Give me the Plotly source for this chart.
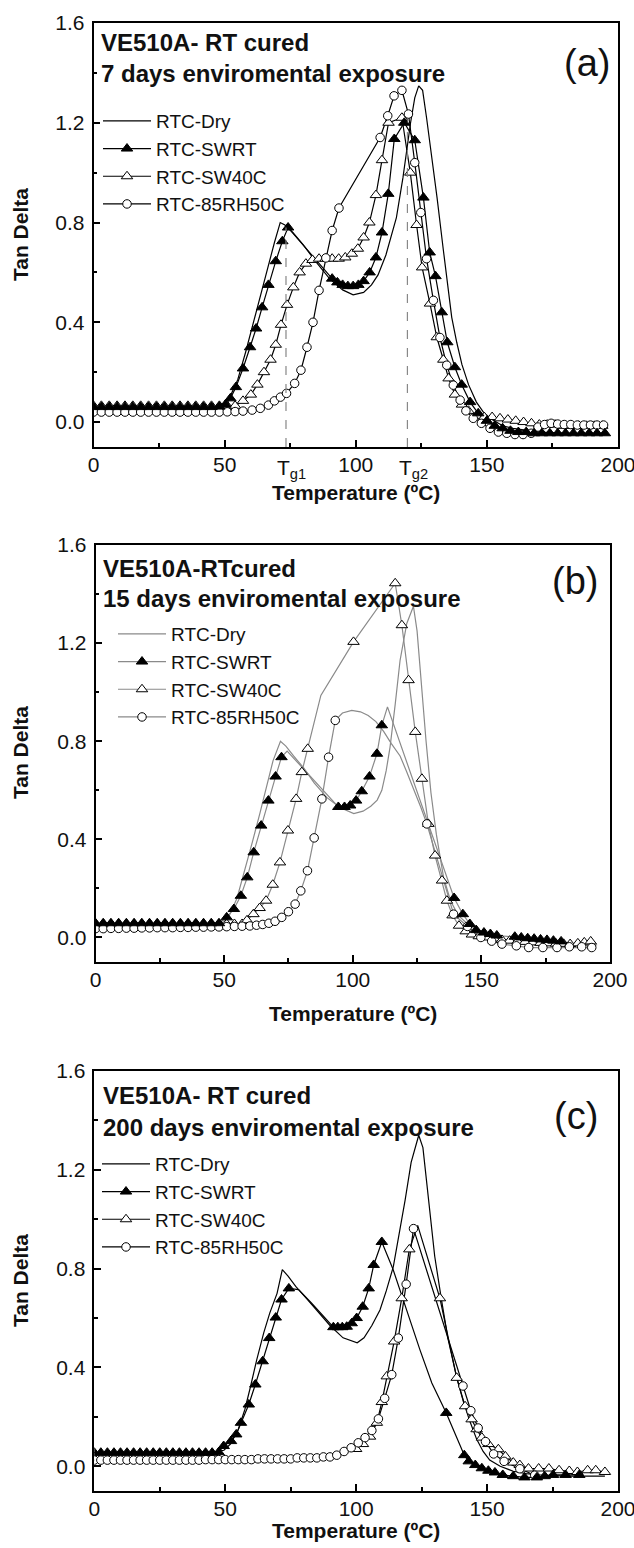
import plotly.graph_objects as go

FONT = "Liberation Sans, Arial, Helvetica, sans-serif"
W, H = 634, 1548

# ---------------- tick labels ----------------
x_ticks = [0, 50, 100, 150, 200]
x_minor = [25, 75, 125, 175]
y_ticks = [0.0, 0.4, 0.8, 1.2, 1.6]
y_ticktext = ["0.0", "0.4", "0.8", "1.2", "1.6"]
y_minor = [0.2, 0.6, 1.0, 1.4]
series_names = ["RTC-Dry", "RTC-SWRT", "RTC-SW40C", "RTC-85RH50C"]

# ---------------- panel (a): 7 days ----------------
a_dry_T = [0, 10, 20, 30, 40, 46, 50, 52, 55, 58, 61, 64, 67, 69, 71.2, 73, 76, 80, 85, 90, 95, 99, 103, 106,
           108.5, 111.5, 115.5, 118, 120.9, 122.5, 124, 125.5, 127, 129, 131, 133.4, 135, 136.6, 138.5, 140.5,
           143, 146, 149, 152, 156, 160, 170, 180, 195]
a_dry_v = [0.055, 0.055, 0.055, 0.055, 0.056, 0.06, 0.075, 0.10, 0.17, 0.28, 0.40, 0.52, 0.65, 0.72, 0.80, 0.79,
           0.76, 0.71, 0.64, 0.575, 0.53, 0.51, 0.52, 0.55, 0.59, 0.67, 0.82, 0.98, 1.20, 1.30, 1.348, 1.33, 1.22,
           1.07, 0.90, 0.69, 0.55, 0.42, 0.32, 0.23, 0.15, 0.08, 0.035, 0.01, -0.015, -0.025, -0.04, -0.045, -0.05]

a_swrt_T = [0, 3, 6, 9, 12, 15, 18, 21, 24, 27, 30, 33, 36, 39, 42, 45, 48, 50.3, 52.2, 54.3, 57.0, 59.7, 62.0,
            64.3, 66.7, 69.5, 72.0, 74.2, 91.0, 93.0, 95.0, 97.0, 99.0, 101.0, 103.0, 105.3, 107.7, 110.0, 112.4,
            114.7, 118.5, 122.5, 125.8, 128.2, 130.4, 132.8, 134.9, 137.8, 140.4, 143.6, 146.7, 150.0, 153.0,
            156.0, 159.0, 162.0, 165.0, 168.0, 171.0, 174.0, 177.0, 180.0, 183.0, 186.0, 189.0, 192.0, 195.0]
a_swrt_v = [0.06, 0.06, 0.06, 0.06, 0.06, 0.06, 0.06, 0.06, 0.06, 0.06, 0.06, 0.06, 0.06, 0.06, 0.06, 0.06, 0.062,
            0.07, 0.095, 0.14, 0.215, 0.30, 0.375, 0.46, 0.55, 0.645, 0.725, 0.78, 0.575, 0.56, 0.55, 0.545, 0.545,
            0.55, 0.565, 0.60, 0.66, 0.76, 0.915, 1.135, 1.20, 1.13, 0.90, 0.68, 0.585, 0.44, 0.32, 0.22, 0.15,
            0.08, 0.035, 0.005, -0.015, -0.025, -0.035, -0.04, -0.04, -0.045, -0.045, -0.045, -0.045, -0.045,
            -0.045, -0.045, -0.045, -0.045, -0.045]
a_swrt_nomark = []

a_sw40c_T = [0, 3, 6, 9, 12, 15, 18, 21, 24, 27, 30, 33, 36, 39, 42, 45, 48, 51, 54, 57.0, 60.0, 62.5, 65.0, 67.5,
             69.5, 71.5, 73.8, 76.2, 78.6, 81.0, 83.5, 86.0, 88.5, 91.0, 93.5, 96.0, 98.5, 100.8, 103.0, 105.2,
             107.7, 110.0, 112.5, 117.6, 120.8, 123.2, 125.3, 128.3, 130.9, 133.4, 135.4, 137.8, 140.5, 143.0,
             146.0, 149.0, 152.0, 155.0, 158.0, 161.0, 164.0, 167.0, 170.0, 173.0, 176.0, 179.0, 182.0, 185.0,
             188.0, 191.0, 194.0]
a_sw40c_v = [0.065, 0.065, 0.065, 0.065, 0.065, 0.065, 0.065, 0.065, 0.065, 0.065, 0.065, 0.065, 0.065, 0.065,
             0.065, 0.065, 0.065, 0.065, 0.065, 0.085, 0.11, 0.15, 0.20, 0.25, 0.31, 0.39, 0.47, 0.54, 0.60, 0.635,
             0.65, 0.655, 0.655, 0.655, 0.655, 0.66, 0.675, 0.695, 0.74, 0.80, 0.91, 1.05, 1.20, 1.22, 1.0, 0.79,
             0.62, 0.475, 0.34, 0.25, 0.175, 0.11, 0.07, 0.045, 0.025, 0.02, 0.02, 0.015, 0.01, 0.005, 0.0, -0.005,
             -0.01, -0.01, -0.01, -0.015, -0.015, -0.015, -0.015, -0.015, -0.015]
a_sw40c_nomark = []

a_rh_T = [0, 3, 6, 9, 12, 15, 18, 21, 24, 27, 30, 33, 36, 39, 42, 45, 48, 51, 54, 57, 60.5, 63.6, 66.7, 69.0, 71.3,
          73.6, 76.7, 79.1, 81.4, 83.7, 86.0, 88.6, 91.0, 93.6, 109.3, 112.2, 114.6, 117.6, 120.1, 122.5, 124.8,
          127.0, 129.6, 132.1, 134.7, 137.2, 139.8, 142.0, 144.8, 147.9, 151.2, 154.4, 157.6, 160.7, 163.8, 166.9,
          169.5, 172.0, 174.5, 177.0, 179.5, 182.0, 184.5, 187.0, 189.5, 192.0, 194.5]
a_rh_v = [0.04, 0.04, 0.04, 0.04, 0.04, 0.04, 0.04, 0.04, 0.04, 0.04, 0.04, 0.04, 0.04, 0.04, 0.04, 0.04, 0.04,
          0.041, 0.042, 0.044, 0.048, 0.055, 0.068, 0.085, 0.10, 0.115, 0.155, 0.208, 0.30, 0.40, 0.528, 0.658,
          0.768, 0.858, 1.141, 1.228, 1.308, 1.33, 1.235, 1.04, 0.84, 0.655, 0.488, 0.339, 0.228, 0.148, 0.088,
          0.045, 0.015, -0.005, -0.025, -0.04, -0.045, -0.05, -0.05, -0.045, -0.02, -0.01, -0.005, -0.008, -0.01,
          -0.01, -0.012, -0.012, -0.012, -0.012, -0.012]
a_rh_nomark = []

a_tg_T = [73.4, 119.7]
a_tg_top = [0.78, 1.2]
a_tg_label_T = [75.5, 122.0]
a_tg_labels = ["T<sub>g1</sub>", "T<sub>g2</sub>"]

# ---------------- panel (b): 15 days ----------------
b_dry_T = [0, 10, 20, 30, 40, 46, 50, 52, 55, 58, 61, 64, 67, 69, 71.9, 74, 77, 81, 85, 90, 95, 100.4, 104, 107,
           109.5, 111.3, 113, 114.5, 116.5, 118.4, 121, 123.6, 125, 126.9, 128.5, 130.4, 132.5, 135.3, 138, 141,
           145.7, 150, 155, 160, 170, 180, 195]
b_dry_v = [0.04, 0.04, 0.04, 0.042, 0.045, 0.05, 0.065, 0.09, 0.16, 0.27, 0.39, 0.51, 0.64, 0.72, 0.80, 0.78, 0.74,
           0.69, 0.63, 0.57, 0.53, 0.505, 0.515, 0.535, 0.56, 0.60, 0.68, 0.776, 0.95, 1.13, 1.28, 1.35, 1.25, 1.0,
           0.80, 0.59, 0.42, 0.245, 0.15, 0.09, 0.045, 0.02, 0.0, -0.01, -0.02, -0.03, -0.03]

b_swrt_T = [0, 3, 6, 9, 12, 15, 18, 21, 24, 27, 30, 33, 36, 39, 42, 45, 48, 51.0, 53.8, 56.5, 59.0, 61.5, 64.4,
            67.2, 70.0, 72.3, 74.5, 94.4, 96.8, 99.0, 101.3, 103.5, 106.5, 109.4, 111.3, 113.5, 129.0, 139.4, 142.8,
            145.5, 148.0, 151.0, 153.5, 156.0, 163.0, 165.5, 168.0, 170.5, 173.0, 175.5, 178.0, 181.0]
b_swrt_v = [0.058, 0.058, 0.058, 0.058, 0.058, 0.058, 0.058, 0.058, 0.058, 0.058, 0.058, 0.058, 0.058, 0.058,
            0.058, 0.058, 0.058, 0.082, 0.116, 0.17, 0.245, 0.347, 0.456, 0.558, 0.656, 0.735, 0.76, 0.532, 0.532,
            0.538, 0.558, 0.596, 0.656, 0.749, 0.865, 0.94, 0.47, 0.161, 0.095, 0.055, 0.03, 0.02, 0.014, 0.008,
            0.003, 0.0, -0.003, -0.005, -0.008, -0.01, -0.013, -0.016]
b_swrt_nomark = [74.5, 113.5, 129.0]

b_sw40c_T = [0, 3, 6, 9, 12, 15, 18, 21, 24, 27, 30, 33, 36, 39, 42, 45, 48, 51, 54, 57, 58.9, 61.4, 63.8, 66.3,
             68.9, 71.7, 74.8, 78.0, 80.2, 82.5, 87.6, 100.3, 116.5, 119.1, 121.7, 124.3, 126.9, 129.4, 132.0,
             134.7, 136.6, 138.8, 141.3, 143.9, 146.3, 149.0, 152.0, 155.0, 158.0, 161.0, 164.0, 167.0, 170.0,
             173.0, 176.0, 179.0, 182.0, 184.5, 187.5, 190.0, 192.5]
b_sw40c_v = [0.055, 0.055, 0.055, 0.055, 0.055, 0.055, 0.055, 0.055, 0.055, 0.055, 0.055, 0.055, 0.055, 0.055,
             0.055, 0.055, 0.055, 0.055, 0.055, 0.055, 0.07, 0.095, 0.12, 0.15, 0.215, 0.306, 0.436, 0.565, 0.674,
             0.769, 0.987, 1.205, 1.444, 1.273, 1.049, 0.838, 0.647, 0.463, 0.334, 0.232, 0.15, 0.09, 0.048, 0.025,
             0.012, 0.005, 0.0, -0.005, -0.01, -0.013, -0.016, -0.018, -0.02, -0.022, -0.024, -0.025, -0.026,
             -0.027, -0.024, -0.02, -0.016]
b_sw40c_nomark = [87.6]

b_rh_T = [0, 3, 6, 9, 12, 15, 18, 21, 24, 27, 30, 33, 36, 39, 42, 45, 48, 51, 54, 57, 60, 62.6, 65.0, 67.4, 69.8,
          72.4, 75.0, 77.6, 79.8, 82.4, 85.0, 88.0, 90.6, 93.2, 96.0, 99.6, 103.0, 106.0, 109.0, 112.0, 115.0,
          118.4, 121.0, 124.0, 126.5, 128.8, 139.2, 144.6, 149.8, 154.0, 158.0, 163.6, 168.4, 173.9, 179.4, 184.2,
          189.0, 192.9]
b_rh_v = [0.036, 0.036, 0.037, 0.037, 0.038, 0.038, 0.039, 0.039, 0.04, 0.04, 0.04, 0.041, 0.041, 0.042, 0.042,
          0.043, 0.043, 0.044, 0.045, 0.046, 0.047, 0.05, 0.053, 0.058, 0.066, 0.082, 0.105, 0.136, 0.19, 0.272,
          0.406, 0.565, 0.735, 0.885, 0.915, 0.926, 0.92, 0.905, 0.88, 0.84, 0.79, 0.74, 0.675, 0.6, 0.53, 0.463,
          0.095, 0.045, 0.0, -0.015, -0.027, -0.034, -0.041, -0.041, -0.041, -0.038, -0.038, -0.041]
b_rh_nomark = [96.0, 99.6, 103.0, 106.0, 109.0, 112.0, 115.0, 118.4, 121.0, 124.0, 126.5]

# ---------------- panel (c): 200 days ----------------
c_dry_T = [0, 10, 20, 30, 40, 46, 49.5, 52, 55, 57.5, 59.6, 62, 64.7, 67, 69.8, 71.8, 74, 77, 81, 85, 90, 95,
           100.4, 103, 106, 109.1, 111.5, 114.2, 116.5, 118.7, 121, 123.9, 125.5, 127.6, 130, 132.5, 135, 138.4,
           141, 143.5, 146, 148.5, 151, 155, 160, 165, 170, 180, 195]
c_dry_v = [0.055, 0.055, 0.055, 0.055, 0.056, 0.058, 0.065, 0.09, 0.15, 0.23, 0.32, 0.43, 0.54, 0.62, 0.70, 0.796,
           0.77, 0.727, 0.68, 0.63, 0.57, 0.52, 0.50, 0.52, 0.57, 0.633, 0.71, 0.808, 0.94, 1.077, 1.23, 1.34, 1.29,
           1.077, 0.85, 0.68, 0.52, 0.36, 0.26, 0.18, 0.11, 0.06, 0.025, 0.0, -0.02, -0.03, -0.035, -0.04, -0.04]

c_swrt_T = [0, 2.5, 5, 7.5, 10, 12.5, 15, 17.5, 20, 22.5, 25, 27.5, 30, 32.5, 35, 37.5, 40, 42.5, 45, 47.5, 49.4,
            52.2, 54.2, 56.0, 59.0, 61.5, 64.3, 66.8, 69.3, 71.5, 74.3, 78.0, 83.0, 87.5, 91.3, 93.0, 94.7, 96.4,
            98.3, 100.2, 102.5, 104.8, 106.7, 109.8, 114.0, 118.0, 121.5, 124.4, 128.9, 134.4, 141.3, 143.0, 145.5,
            148.0, 150.5, 153.0, 156.0, 160.0, 164.3, 169.0, 172.0, 175.2, 180.0, 185.2]
c_swrt_v = [0.055, 0.055, 0.055, 0.055, 0.055, 0.055, 0.055, 0.055, 0.055, 0.055, 0.055, 0.055, 0.055, 0.055,
            0.055, 0.055, 0.055, 0.055, 0.055, 0.057, 0.082, 0.102, 0.129, 0.176, 0.25, 0.331, 0.425, 0.519, 0.602,
            0.675, 0.72, 0.715, 0.66, 0.605, 0.563, 0.563, 0.563, 0.565, 0.579, 0.60, 0.646, 0.72, 0.815, 0.908,
            0.80, 0.67, 0.56, 0.47, 0.337, 0.216, 0.045, 0.02, 0.005, -0.008, -0.018, -0.025, -0.035, -0.04, -0.045,
            -0.045, -0.04, -0.035, -0.035, -0.035]
c_swrt_nomark = [78.0, 83.0, 87.5, 114.0, 118.0, 121.5, 124.4, 128.9]

c_sw40c_T = [100.0, 102.6, 105.3, 107.9, 109.8, 111.7, 114.5, 117.4, 120.3, 123.5, 132.0, 138.4, 141.6, 144.1,
             146.0, 148.0, 150.5, 154.3, 157.0, 160.0, 162.5, 165.8, 169.7, 173.6, 177.5, 181.4, 184.5, 188.4,
             191.5, 195.0]
c_sw40c_v = [0.07, 0.09, 0.12, 0.176, 0.26, 0.364, 0.505, 0.68, 0.878, 0.975, 0.68, 0.358, 0.243, 0.19, 0.15,
             0.116, 0.09, 0.069, 0.04, 0.015, 0.005, -0.009, -0.009, -0.009, -0.016, -0.019, -0.023, -0.016, -0.016,
             -0.023]
c_sw40c_nomark = [123.5]

c_rh_T = [0, 2.5, 5, 7.5, 10, 12.5, 15, 17.5, 20, 22.5, 25, 27.5, 30, 32.5, 35, 37.5, 40, 42.5, 45, 47.5, 50, 52.5,
          55, 57.5, 60, 62.5, 65, 67.5, 70, 72.5, 75, 77.5, 80, 82.5, 85, 87.5, 90, 92.6, 95.4, 98.1, 100.8, 103.4,
          106.0, 108.5, 110.9, 113.6, 116.1, 119.1, 121.9, 140.8, 143.8, 146.6, 149.4, 152.5, 156.5, 162.5, 168.2]
c_rh_v = [0.025, 0.025, 0.025, 0.025, 0.025, 0.025, 0.025, 0.025, 0.025, 0.025, 0.025, 0.025, 0.025, 0.025, 0.025,
          0.025, 0.025, 0.027, 0.027, 0.027, 0.027, 0.027, 0.027, 0.027, 0.027, 0.03, 0.03, 0.03, 0.03, 0.03, 0.03,
          0.034, 0.034, 0.034, 0.034, 0.038, 0.038, 0.045, 0.06, 0.075, 0.095, 0.116, 0.145, 0.192, 0.275, 0.371,
          0.519, 0.737, 0.962, 0.325, 0.225, 0.155, 0.10, 0.05, 0.02, -0.01, -0.036]
c_rh_nomark = []

# ---------------- geometry (pixels in the 634x1548 page) ----------------
def px(x):
    return x / W


def py(y):
    return 1 - y / H


panels = [
    dict(dom_x=(93.5, 618), dom_y=(447, 23)),
    dict(dom_x=(95.5, 610), dom_y=(962, 545)),
    dict(dom_x=(94.3, 618), dom_y=(1491, 1071)),
]

fig = go.Figure()

BLACK = "black"
GRAY = "#8a8a8a"


def add_panel(row, dry, swrt, sw40c, rh, line_color, legend_id):
    xa = "x" if row == 1 else f"x{row}"
    ya = "y" if row == 1 else f"y{row}"
    lw = 1.2
    styles = {
        "swrt": dict(symbol="triangle-up", size=10, color="black", line=dict(color="black", width=1)),
        "sw40c": dict(symbol="triangle-up", size=10, color="white", line=dict(color="black", width=1)),
        "rh": dict(symbol="circle", size=8.5, color="white", line=dict(color="black", width=1)),
    }
    fig.add_trace(go.Scatter(x=dry[0], y=dry[1], mode="lines", line=dict(color=line_color, width=lw),
                             xaxis=xa, yaxis=ya, showlegend=False, hoverinfo="skip"))
    for key, (T, v, nm) in (("sw40c", sw40c), ("rh", rh), ("swrt", swrt)):
        fig.add_trace(go.Scatter(x=T, y=v, mode="lines", line=dict(color=line_color, width=lw),
                                 xaxis=xa, yaxis=ya, showlegend=False, hoverinfo="skip"))
    for key, (T, v, nm) in (("sw40c", sw40c), ("rh", rh), ("swrt", swrt)):
        mT = [t for t in T if t not in nm]
        mv = [val for t, val in zip(T, v) if t not in nm]
        fig.add_trace(go.Scatter(x=mT, y=mv, mode="markers", marker=styles[key],
                                 xaxis=xa, yaxis=ya, showlegend=False, hoverinfo="skip"))
    fig.add_trace(go.Scatter(x=[None], y=[None], mode="lines", name=series_names[0],
                             line=dict(color=line_color, width=lw), xaxis=xa, yaxis=ya, legend=legend_id))
    for name, key in zip(series_names[1:], ("swrt", "sw40c", "rh")):
        fig.add_trace(go.Scatter(x=[None], y=[None], mode="lines+markers", name=name,
                                 line=dict(color=line_color, width=lw), marker=styles[key],
                                 xaxis=xa, yaxis=ya, legend=legend_id))


add_panel(1, (a_dry_T, a_dry_v), (a_swrt_T, a_swrt_v, a_swrt_nomark), (a_sw40c_T, a_sw40c_v, a_sw40c_nomark),
          (a_rh_T, a_rh_v, a_rh_nomark), BLACK, "legend")
add_panel(2, (b_dry_T, b_dry_v), (b_swrt_T, b_swrt_v, b_swrt_nomark), (b_sw40c_T, b_sw40c_v, b_sw40c_nomark),
          (b_rh_T, b_rh_v, b_rh_nomark), GRAY, "legend2")
add_panel(3, (c_dry_T, c_dry_v), (c_swrt_T, c_swrt_v, c_swrt_nomark), (c_sw40c_T, c_sw40c_v, c_sw40c_nomark),
          (c_rh_T, c_rh_v, c_rh_nomark), BLACK, "legend3")

axis_common = dict(showline=True, linecolor="black", linewidth=1.5, mirror=True, ticks="inside", ticklen=7,
                   tickwidth=1.5, tickcolor="black", showgrid=False, zeroline=False, automargin=False,
                   ticklabeloverflow="allow", tickfont=dict(family=FONT, size=21, color="#111"))

layout = dict(width=W, height=H, margin=dict(l=0, r=0, t=0, b=0), paper_bgcolor="white", plot_bgcolor="white",
              font=dict(family=FONT, color="black"))

for i, p in enumerate(panels, start=1):
    sx = "" if i == 1 else str(i)
    layout[f"xaxis{sx}"] = dict(axis_common, domain=[px(p["dom_x"][0]), px(p["dom_x"][1])],
                                anchor=f"y{sx}", range=[0, 200], tickvals=x_ticks,
                                ticktext=[str(t) for t in x_ticks], ticklabelstandoff=-2,
                                minor=dict(tickvals=x_minor, ticks="inside", ticklen=4, tickwidth=1.5,
                                           tickcolor="black", showgrid=False))
    layout[f"yaxis{sx}"] = dict(axis_common, domain=[py(p["dom_y"][0]), py(p["dom_y"][1])],
                                anchor=f"x{sx}", range=[-0.1, 1.6], tickvals=y_ticks, ticktext=y_ticktext,
                                ticklabelstandoff=3,
                                minor=dict(tickvals=y_minor, ticks="inside", ticklen=4, tickwidth=1.5,
                                           tickcolor="black", showgrid=False))

leg_common = dict(xanchor="left", yanchor="top", bgcolor="rgba(0,0,0,0)", font=dict(family=FONT, size=19,
                  color="#111"), tracegroupgap=0, itemwidth=48, itemclick=False, itemdoubleclick=False)
layout["legend"] = dict(leg_common, x=px(98), y=py(102))
layout["legend2"] = dict(leg_common, x=px(113), y=py(615))
layout["legend3"] = dict(leg_common, x=px(97), y=py(1145))

ann = []


def text(x, y, s, size, bold=False, xanchor="left", angle=0, color="#111"):
    ann.append(dict(x=px(x), y=py(y), xref="paper", yref="paper", text=f"<b>{s}</b>" if bold else s,
                    showarrow=False, xanchor=xanchor, yanchor="middle", textangle=angle,
                    font=dict(family=FONT, size=size, color=color)))


# panel (a)
text(99, 42, "VE510A- RT cured", 24, bold=True)
text(99, 73, "7 days enviromental exposure", 24, bold=True)
text(587, 63, "(a)", 38, xanchor="center")
text(20, 235, "Tan Delta", 21, bold=True, xanchor="center", angle=-90)
text(356, 493, "Temperature (ºC)", 21, bold=True, xanchor="center")
for T, lab in zip(a_tg_label_T, a_tg_labels):
    ann.append(dict(x=T, y=py(469), xref="x", yref="paper", text=lab, showarrow=False, xanchor="center",
                    yanchor="middle", font=dict(family=FONT, size=21, color="#111")))
# panel (b)
text(101, 568, "VE510A-RTcured", 24, bold=True)
text(101, 599, "15 days enviromental exposure", 24, bold=True)
text(575, 581, "(b)", 38, xanchor="center")
text(20, 753, "Tan Delta", 21, bold=True, xanchor="center", angle=-90)
text(353, 1013, "Temperature (ºC)", 21, bold=True, xanchor="center")
# panel (c)
text(101, 1095, "VE510A- RT cured", 24, bold=True)
text(101, 1127, "200 days enviromental exposure", 24, bold=True)
text(576, 1116, "(c)", 38, xanchor="center")
text(20, 1281, "Tan Delta", 21, bold=True, xanchor="center", angle=-90)
text(356, 1530, "Temperature (ºC)", 21, bold=True, xanchor="center")

layout["annotations"] = ann

shapes = []
for T, top in zip(a_tg_T, a_tg_top):
    shapes.append(dict(type="line", xref="x", yref="y", x0=T, x1=T, y0=-0.1, y1=top,
                       line=dict(color="#888", width=1.2, dash="dash")))
layout["shapes"] = shapes

fig.update_layout(**layout)
fig.write_html("out.html", config={"displayModeBar": False},
               post_script="document.body.style.margin='0px';")
